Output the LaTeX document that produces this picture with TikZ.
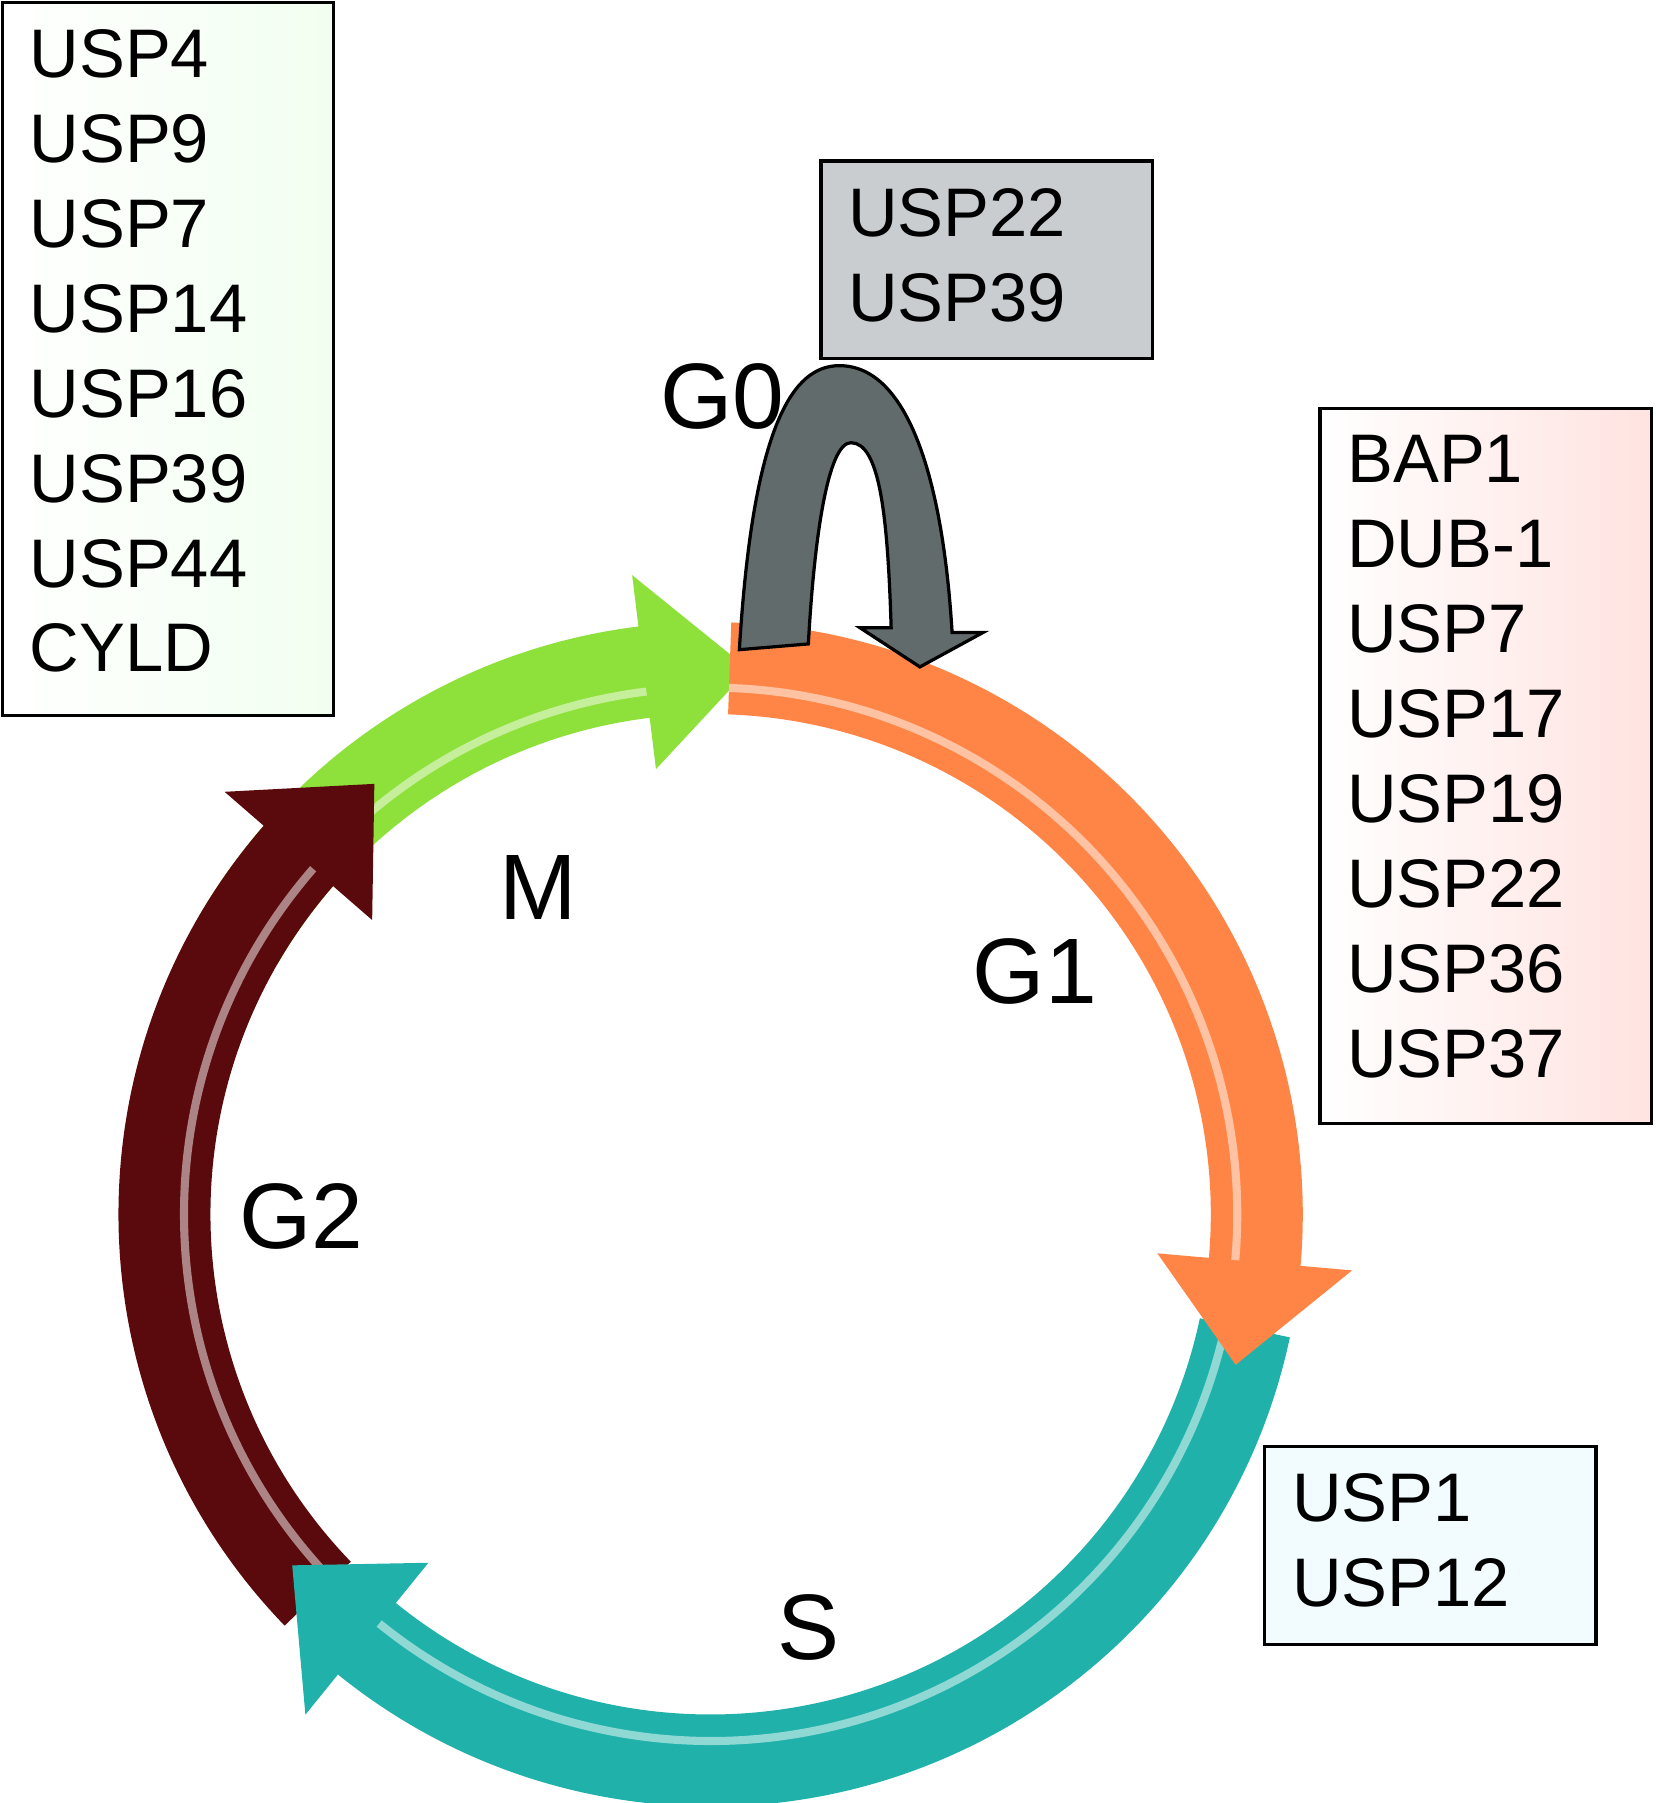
\documentclass[tikz,border=0pt]{standalone}
\usepackage{fontspec}
\setmainfont{Liberation Sans}
\usetikzlibrary{positioning}
\definecolor{mgreen}{HTML}{8EE03A}
\definecolor{g2red}{HTML}{5A0A0C}
\definecolor{steal}{HTML}{20B2AA}
\definecolor{g1orange}{HTML}{FF8547}
\definecolor{g0grey}{HTML}{626B6B}
\tikzset{
  usplist/.style={anchor=north west, inner sep=0pt, align=left,
    font=\fontsize{17}{21}\selectfont},
  uspbox/.style={draw=black, line width=0.8pt},
  phase/.style={font=\fontsize{23}{27}\selectfont, inner sep=0pt}
}
% one arc arrow of the cycle, clockwise from #2 to #3
\newcommand{\cycarrow}[3]{%
  \pgfmathsetmacro\hd{#3+11}
  \fill[#1] ([shift={(cc)}]#2:515) arc[start angle=#2, end angle=\hd, radius=515]
    -- ([shift={(cc)}]\hd:560) -- ([shift={(cc)}]#3:475) -- ([shift={(cc)}]\hd:390)
    -- ([shift={(cc)}]\hd:435) arc[start angle=\hd, end angle=#2, radius=435] -- cycle;
  \draw[white, opacity=0.5, line width=2pt] ([shift={(cc)}]#2:458) arc[start angle=#2, end angle=\hd, radius=458];
}
\begin{document}
\begin{tikzpicture}[x=0.01cm, y=0.01cm]
\useasboundingbox (0,0) rectangle (1440,1568);
\coordinate (cc) at (618,512);

% cycle
\cycarrow{mgreen}{150}{86}
\cycarrow{g2red}{-136}{-232}
\cycarrow{steal}{-12}{-140}
\cycarrow{g1orange}{88}{-16}

% G0 loop
\filldraw[fill=g0grey, draw=black, line width=0.8pt]
  (643,1003) .. controls (655,1200) and (690,1250) .. (730,1250)
  .. controls (790,1250) and (820,1150) .. (828,1018) -- (855,1018) -- (800,988)
  -- (748,1022) -- (775,1022) .. controls (772,1120) and (765,1183) .. (740,1183)
  .. controls (720,1183) and (708,1100) .. (703,1008) -- cycle;

% boxes
\draw[uspbox, left color=white, right color=yellow!10!green!6] (2,946) rectangle (290,1566);
\node[usplist] (mlist) at (25,1543) {USP4\\USP9\\USP7\\USP14\\USP16\\USP39\\USP44\\CYLD};
\draw[uspbox, fill=gray!45!cyan!8!white!80!black] (714,1256) rectangle (1002,1428);
\node[usplist] (g0list) at (737,1405) {USP22\\USP39};
\draw[uspbox, left color=white, right color=orange!18!red!12] (1148,591) rectangle (1436,1213);
\node[usplist] (g1list) at (1171,1190) {BAP1\\DUB-1\\USP7\\USP17\\USP19\\USP22\\USP36\\USP37};
\draw[uspbox, fill=cyan!5] (1100,138) rectangle (1388,310);
\node[usplist] (slist) at (1123,287) {USP1\\USP12};

% phase labels
\node[phase] (g0) at (628,1223) {G0};
\node[phase] (m) at (468,796) {M};
\node[phase] (g1) at (900,723) {G1};
\node[phase] (g2) at (262,510) {G2};
\node[phase] (s) at (703,153) {S};
\end{tikzpicture}
\end{document}
